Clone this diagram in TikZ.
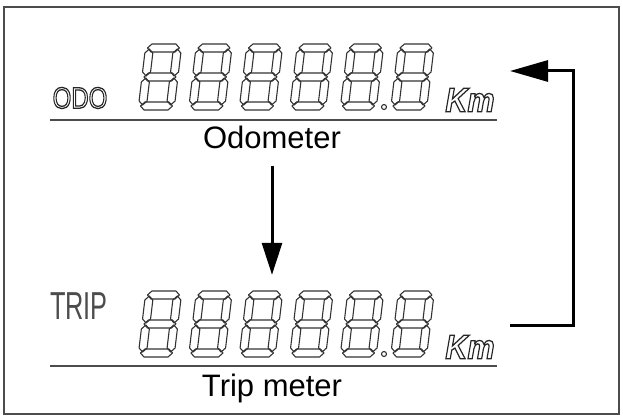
\documentclass[tikz,border=0pt]{standalone}
\usepackage{fontspec}
\setmainfont{Liberation Sans}
\usetikzlibrary{arrows.meta}

\newcommand{\hollow}[1]{\special{pdf:literal direct 1 Tr 1.3 w}#1\special{pdf:literal direct 0 Tr}}
\newcommand{\lcddigit}{%
  \foreach \yc in {4,33,62}
    \draw[seg] (2,\yc) -- (6,\yc+4) -- (30,\yc+4) -- (34,\yc) -- (30,\yc-4) -- (6,\yc-4) -- cycle;
  \foreach \xc in {4,32}
    \foreach \yb in {5,34}
      \draw[seg] (\xc,\yb) -- (\xc+4,\yb+4) -- (\xc+4,\yb+23) -- (\xc,\yb+27) -- (\xc-4,\yb+23) -- (\xc-4,\yb+4) -- cycle;
}

\begin{document}
\begin{tikzpicture}[x=1pt,y=1pt,
seg/.style={draw=black!80,line width=1.1pt,line join=round},
rule/.style={draw=black!70,line width=1.6pt},
flow/.style={line width=3pt},
caption/.style={font=\fontsize{31}{31}\selectfont,inner sep=0pt,anchor=base},
unit/.style={font=\fontsize{34}{34}\selectfont\bfseries\itshape,text=black!85,inner sep=0pt,xscale=0.9}]
\useasboundingbox (0,0) rectangle (623,418);
\draw[draw=black!70,line width=1.5pt] (4,4) rectangle (619,411);
\foreach \row in {308,61}
  \foreach \i in {0,...,5}
    \begin{scope}[shift={(138+50.5*\i,\row)},xslant=0.12]
      \lcddigit
    \end{scope};
\draw[seg] (384,311) circle (2.5);
\draw[seg] (384,64) circle (2.5);
\node[inner sep=0pt,minimum width=294pt,minimum height=66pt] (odorow) at (285,341) {};
\node[inner sep=0pt,minimum width=294pt,minimum height=66pt] (triprow) at (285,94) {};
\node[font=\fontsize{30}{30}\selectfont,text=black!85,inner sep=0pt,xscale=0.8] (odo) at (80,320) {\hollow{ODO}};
\node[font=\fontsize{39}{39}\selectfont,text=black!70,inner sep=0pt,xscale=0.65] (trip) at (79,112) {TRIP};
\node[unit] (odokm) at (470,318) {\hollow{Km}};
\node[unit] (tripkm) at (470,71) {\hollow{Km}};
\draw[rule] (50,298) -- (497,298);
\draw[rule] (50,52) -- (497,52);
\node[caption] (odometer) at (272,269) {Odometer};
\node[caption] (tripmeter) at (272,22) {Trip meter};
\draw[flow,-{Triangle[length=32pt,width=20pt]},shorten <=16pt,shorten >=16pt] (odometer.south) -- (odometer.south |- triprow.north);
\coordinate (loopin) at (510,93);
\coordinate (loopout) at (510,347);
\draw[flow,-{Triangle[length=38pt,width=21pt]}] (loopin) -- ++(63,0) |- (loopout);
\end{tikzpicture}
\end{document}
